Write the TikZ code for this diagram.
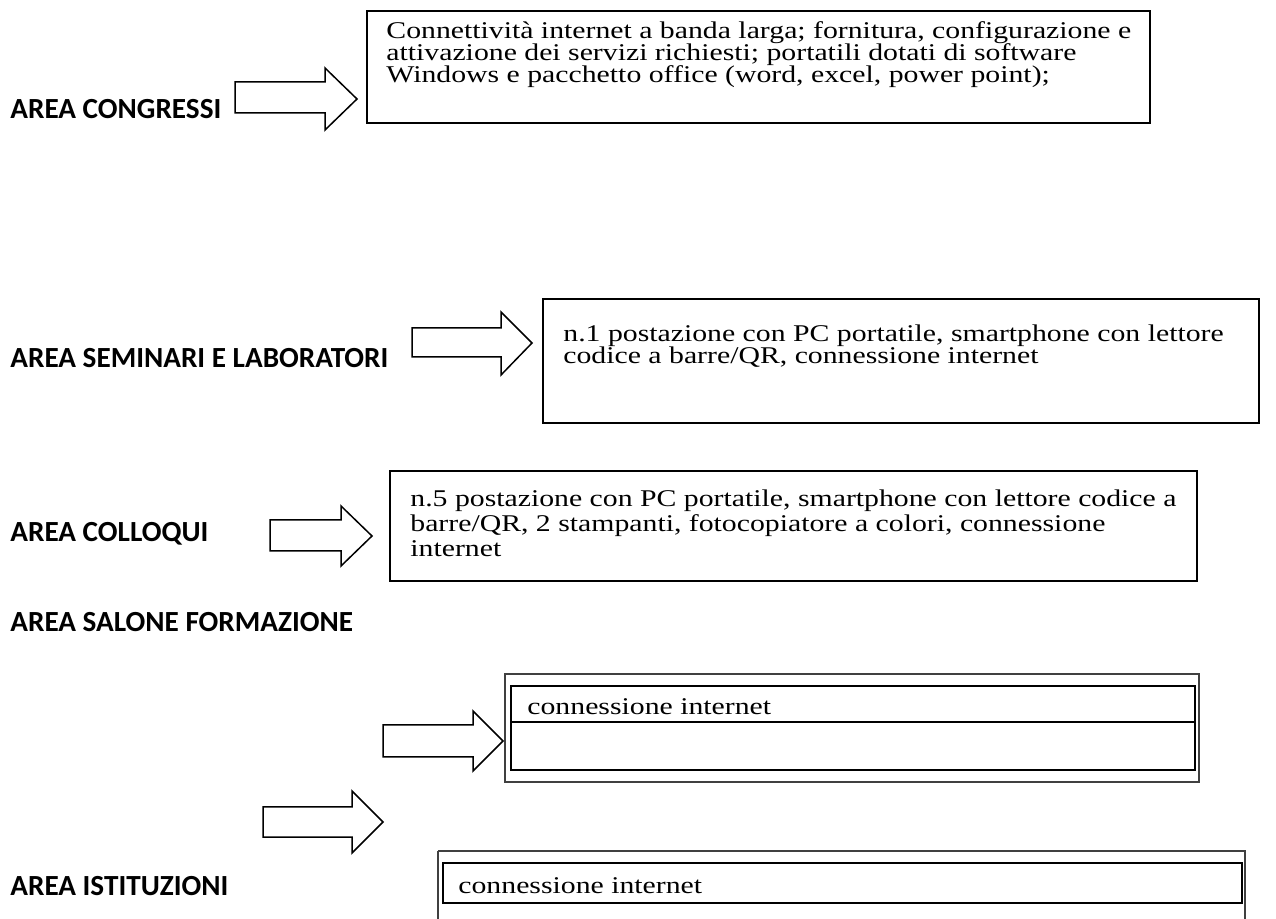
\documentclass[tikz,border=0pt]{standalone}
\usepackage{fontspec}
\setmainfont{Liberation Serif}
\newfontfamily\lblfont{Carlito}
\newfontfamily\boxfont[FakeStretch=1.24]{Liberation Serif}

\tikzset{
  lbl/.style={font=\lblfont\bfseries\fontsize{14.6}{17}\selectfont, anchor=base west, inner sep=0pt},
  txt/.style={font=\boxfont\fontsize{12}{13}\selectfont, anchor=base west, inner sep=0pt},
  blk/.style={draw, line width=0.75pt, line join=miter},
  box/.style={draw, line width=0.75pt},
  inbox/.style={draw, line width=1.1pt},
  outbox/.style={draw, black!75, line width=0.6pt},
}

\begin{document}
\begin{tikzpicture}[x=0.5pt,y=-0.5pt]
    \useasboundingbox (0,0) rectangle (1276,919);

    % area congressi
    \node[lbl] (l1) at (10,119) {AREA CONGRESSI};
    \draw[blk] (235,82) -- (325,82) -- (325,68) -- (357,99) -- (325,130) -- (325,113) -- (235,113) -- cycle;
    \draw[box] (367,11) rectangle (1150,123);
    \node[txt] (t11) at (386,39) {Connettività internet a banda larga; fornitura, configurazione e};
    \node[txt] (t12) at (386,61) {attivazione dei servizi richiesti; portatili dotati di software};
    \node[txt] (t13) at (386,83) {Windows e pacchetto office (word, excel, power point);};

    % area seminari
    \node[lbl] (l2) at (10,368) {AREA SEMINARI E LABORATORI};
    \draw[blk] (412,328) -- (501,328) -- (501,312) -- (532,343) -- (501,375) -- (501,357) -- (412,357) -- cycle;
    \draw[box] (543,299) rectangle (1259,423);
    \node[txt] (t21) at (563,342) {n.1 postazione con PC portatile, smartphone con lettore};
    \node[txt] (t22) at (563,364) {codice a barre/QR, connessione internet};

    % area colloqui
    \node[lbl] (l3) at (10,542) {AREA COLLOQUI};
    \draw[blk] (270,520) -- (341,520) -- (341,506) -- (372,536) -- (341,566) -- (341,551) -- (270,551) -- cycle;
    \draw[box] (390,471) rectangle (1197,581);
    \node[txt] (t31) at (410,507) {n.5 postazione con PC portatile, smartphone con lettore codice a};
    \node[txt] (t32) at (410,532) {barre/QR, 2 stampanti, fotocopiatore a colori, connessione};
    \node[txt] (t33) at (410,557) {internet};

    % area salone formazione
    \node[lbl] (l4) at (10,632) {AREA SALONE FORMAZIONE};
    \draw[blk] (383,725) -- (473,725) -- (473,711) -- (503,741) -- (473,771) -- (473,757) -- (383,757) -- cycle;
    \draw[outbox] (505,674) rectangle (1199,782);
    \draw[inbox] (511,686) rectangle (1195,770);
    \draw[inbox] (511,722) -- (1195,722);
    \node[txt] (t41) at (527,715) {connessione internet};

    % area istituzioni
    \node[lbl] (l5) at (10,895) {AREA ISTITUZIONI};
    \draw[blk] (263,807) -- (352,807) -- (352,791) -- (383,822) -- (352,853) -- (352,837) -- (263,837) -- cycle;
    \draw[outbox] (438,851) -- (438,925);
    \draw[outbox] (438,851) -- (1245,851) -- (1245,925);
    \draw[inbox] (443,863) rectangle (1242,903);
    \node[txt] (t51) at (458,893) {connessione internet};
\end{tikzpicture}
\end{document}
